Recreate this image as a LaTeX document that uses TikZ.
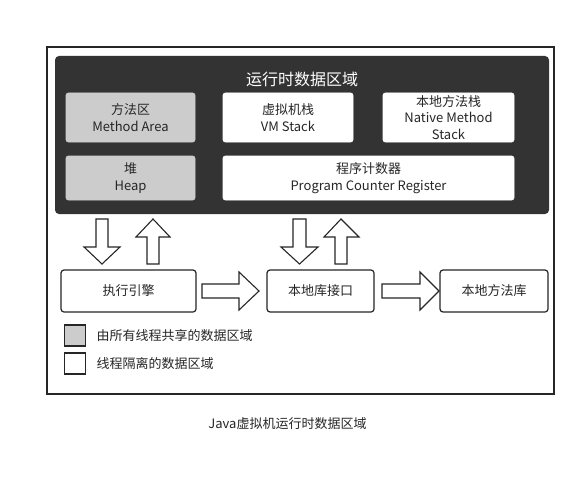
\documentclass[tikz,border=0pt]{standalone}
\usepackage{fontspec}
\setmainfont{Noto Sans CJK SC}
\begin{document}
\begin{tikzpicture}[x=1pt,y=-1pt,
  txt/.style={text=black!85, font=\fontsize{13}{16.5}\selectfont, align=center},
  areabox/.style={txt, draw=black!85, line width=0.8pt, rounded corners=2.5pt, inner sep=0pt},
  shared/.style={areabox, fill=black!20, draw=black!20},
  private/.style={areabox, fill=white, draw=white},
  unitbox/.style={txt, draw=black!85, fill=white, line width=1.2pt, rounded corners=3pt, inner sep=0pt, minimum height=42pt},
  blockarrow/.style={draw=black!85, fill=white, line width=1.1pt, line join=miter},
  legendbox/.style={draw=black!85, line width=1.2pt, minimum width=21pt, minimum height=21pt, inner sep=0pt}
]
\useasboundingbox (0,0) rectangle (588,476);
\fill[white] (0,0) rectangle (588,476);

% outer frame and the dark runtime data area
\node[draw=black!85, line width=1.3pt, minimum width=507pt, minimum height=347pt, inner sep=0pt] (frame) at (300.5,220.5) {};
\node[fill=black!80, rounded corners=4pt, minimum width=494pt, minimum height=158pt, inner sep=0pt] (runtime) at (302,135) {};
\node[text=white, font=\fontsize{16}{19}\selectfont] (title) at (302,79) {运行时数据区域};

% memory areas
\node[shared,  minimum width=129pt, minimum height=49pt] (method) at (130.5,117.5) {方法区\\Method Area};
\node[private, minimum width=130pt, minimum height=49pt] (vmstack) at (288,117.5) {虚拟机栈\\VM Stack};
\node[private, minimum width=131pt, minimum height=49pt] (native) at (448.5,117.5) {本地方法栈\\Native Method\\Stack};
\node[shared,  minimum width=129pt, minimum height=44pt] (heap) at (130.5,178) {堆\\Heap};
\node[private, minimum width=291pt, minimum height=44pt] (pc) at (368.5,178) {程序计数器\\Program Counter Register};

% execution units
\node[unitbox, minimum width=135pt] (engine) at (128.5,291) {执行引擎};
\node[unitbox, minimum width=107pt] (jni) at (320.5,291) {本地库接口};
\node[unitbox, minimum width=108pt] (libs) at (494,291) {本地方法库};

% block arrows between the data area and the units
\draw[blockarrow] (96,219) -- (108,219) -- (108,247) -- (120,247) -- (102,264) -- (84,247) -- (96,247) -- cycle;
\draw[blockarrow] (153,219) -- (170,237) -- (159,237) -- (159,264) -- (147,264) -- (147,237) -- (136,237) -- cycle;
\draw[blockarrow] (293,219) -- (306,219) -- (306,247) -- (318,247) -- (299.5,264) -- (281,247) -- (293,247) -- cycle;
\draw[blockarrow] (341,219) -- (359,237) -- (347,237) -- (347,264) -- (335,264) -- (335,237) -- (324,237) -- cycle;
\draw[blockarrow] (202,284) -- (239,284) -- (239,272) -- (259,291) -- (239,310) -- (239,298) -- (202,298) -- cycle;
\draw[blockarrow] (382,284) -- (420,284) -- (420,272) -- (439,291) -- (420,310) -- (420,298) -- (382,298) -- cycle;

% legend
\node[legendbox, fill=black!20] (keyshared) at (75,335.5) {};
\node[txt, anchor=west] (keysharedtext) at (93,335.5) {由所有线程共享的数据区域};
\node[legendbox, fill=white] (keyprivate) at (75,363.5) {};
\node[txt, anchor=west] (keyprivatetext) at (93,363.5) {线程隔离的数据区域};

% caption
\node[txt] (caption) at (287.5,424) {Java虚拟机运行时数据区域};
\end{tikzpicture}
\end{document}
